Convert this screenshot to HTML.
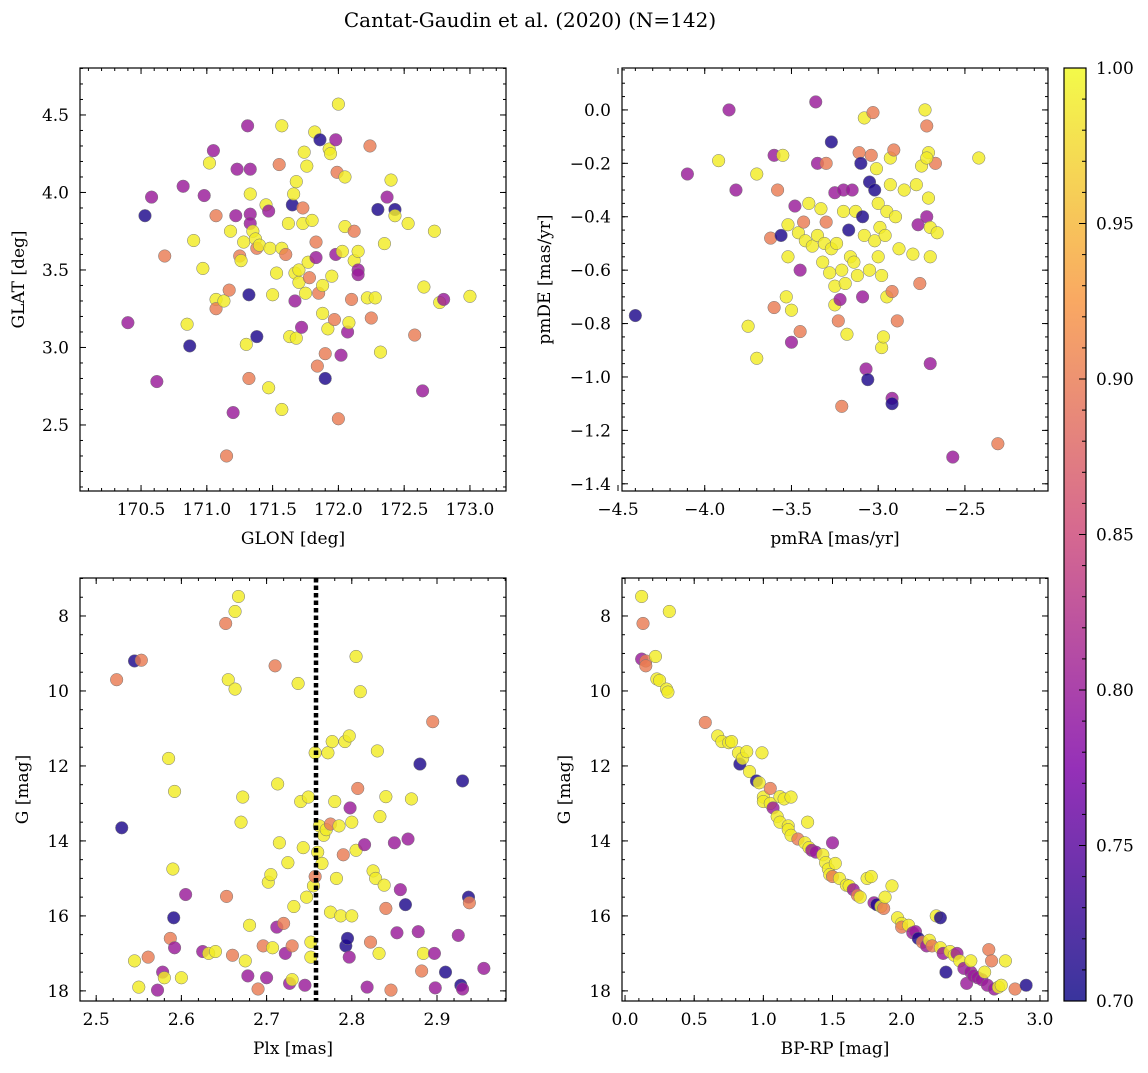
<!DOCTYPE html>
<html><head><meta charset="utf-8"><style>
body{margin:0;background:#fff;}
svg text{font-family:"DejaVu Serif","Liberation Serif",serif;fill:#000;}
</style></head><body>
<svg id="fig" width="1148" height="1068" viewBox="0 0 1148 1068" xmlns="http://www.w3.org/2000/svg">
<defs><linearGradient id="cbg" x1="0" y1="1" x2="0" y2="0">
<stop offset="0" stop-color="#0d0887"/><stop offset="0.25" stop-color="#7e03a8"/><stop offset="0.5" stop-color="#cc4778"/><stop offset="0.75" stop-color="#f89540"/><stop offset="1" stop-color="#f0f921"/></linearGradient></defs>
<text x="530" y="27" font-size="20" text-anchor="middle">Cantat-Gaudin et al. (2020) (N=142)</text>
</svg>
<script>
const N=0.71,P=0.80,S=0.90,Y=0.99;
// Panel 1: GLON / GLAT
const glon=[170.4,170.53,170.58,170.62,170.68,170.82,170.85,170.87,170.9,170.97,170.98,171.02,171.05,171.07,171.07,171.07,171.13,171.15,171.17,171.18,171.2,171.22,171.23,171.25,171.26,171.28,171.30,171.31,171.32,171.32,171.33,171.33,171.33,171.33,171.35,171.37,171.38,171.38,171.4,171.45,171.47,171.47,171.48,171.50,171.53,171.55,171.57,171.57,171.57,171.6,171.62,171.63,171.65,171.66,171.67,171.67,171.68,171.68,171.7,171.7,171.72,171.73,171.73,171.74,171.75,171.76,171.77,171.78,171.80,171.82,171.83,171.83,171.84,171.85,171.86,171.88,171.88,171.9,171.9,171.92,171.93,171.94,171.95,171.97,171.98,171.98,171.99,172.0,172.0,172.02,172.03,172.05,172.05,172.07,172.08,172.1,172.12,172.12,172.15,172.15,172.15,172.22,172.24,172.25,172.28,172.3,172.32,172.35,172.37,172.4,172.43,172.43,172.53,172.58,172.64,172.65,172.73,172.77,172.8,173.0];
const glat=[3.16,3.85,3.97,2.78,3.59,4.04,3.15,3.01,3.69,3.51,3.98,4.19,4.27,3.85,3.31,3.25,3.30,2.30,3.37,3.75,2.58,3.85,4.15,3.59,3.56,3.68,3.02,4.43,3.34,2.80,4.15,3.99,3.86,3.80,3.75,3.70,3.07,3.64,3.66,3.92,3.88,2.74,3.64,3.34,3.48,4.18,4.43,3.64,2.60,3.60,3.80,3.07,3.92,3.99,3.48,3.30,3.06,4.07,3.50,3.42,3.13,3.80,3.90,4.26,3.35,4.17,3.55,3.45,3.82,4.39,3.68,3.58,2.88,3.35,4.34,3.40,3.22,2.96,2.80,3.12,4.28,4.25,3.46,3.18,3.60,4.34,4.13,4.57,2.54,2.95,3.62,4.10,3.78,3.10,3.16,3.31,3.75,3.56,3.50,3.47,3.62,3.32,4.30,3.19,3.32,3.89,2.97,3.67,3.97,4.08,3.89,3.85,3.80,3.08,2.72,3.39,3.75,3.29,3.31,3.33];
const prob1=[P,N,P,P,S,P,Y,N,Y,Y,P,Y,P,S,Y,S,Y,S,S,Y,P,P,P,S,Y,Y,Y,P,N,S,P,Y,P,P,Y,Y,N,S,Y,Y,P,Y,Y,Y,Y,S,Y,Y,Y,S,Y,Y,N,Y,Y,P,Y,Y,Y,Y,P,Y,S,Y,Y,Y,Y,S,Y,Y,S,P,S,S,N,Y,Y,S,N,Y,Y,Y,Y,S,P,P,S,Y,S,P,Y,Y,Y,P,Y,S,S,Y,P,P,Y,Y,S,S,Y,N,Y,Y,P,Y,N,Y,Y,S,P,Y,Y,Y,P,Y];
// Panel 2: pmRA / pmDE
const pmra=[-4.40,-4.1,-3.92,-3.86,-3.82,-3.75,-3.7,-3.7,-3.62,-3.6,-3.6,-3.58,-3.56,-3.55,-3.53,-3.52,-3.52,-3.5,-3.5,-3.48,-3.46,-3.45,-3.45,-3.43,-3.42,-3.40,-3.38,-3.36,-3.35,-3.35,-3.33,-3.32,-3.31,-3.30,-3.30,-3.28,-3.27,-3.27,-3.25,-3.25,-3.25,-3.24,-3.23,-3.22,-3.21,-3.21,-3.20,-3.20,-3.19,-3.18,-3.17,-3.16,-3.15,-3.14,-3.13,-3.12,-3.11,-3.1,-3.09,-3.09,-3.08,-3.08,-3.07,-3.06,-3.05,-3.05,-3.04,-3.03,-3.02,-3.02,-3.01,-3.00,-3.00,-2.99,-2.98,-2.98,-2.97,-2.96,-2.95,-2.95,-2.93,-2.93,-2.92,-2.92,-2.92,-2.91,-2.9,-2.89,-2.88,-2.85,-2.80,-2.78,-2.77,-2.76,-2.75,-2.73,-2.72,-2.72,-2.71,-2.71,-2.70,-2.70,-2.70,-2.67,-2.66,-2.57,-2.42,-2.31,-2.72];
const pmde=[-0.77,-0.24,-0.19,0.0,-0.30,-0.81,-0.93,-0.24,-0.48,-0.74,-0.17,-0.30,-0.47,-0.17,-0.70,-0.43,-0.55,-0.87,-0.75,-0.36,-0.46,-0.83,-0.60,-0.42,-0.49,-0.35,-0.51,0.03,-0.20,-0.47,-0.37,-0.57,-0.50,-0.20,-0.42,-0.61,-0.12,-0.52,-0.73,-0.66,-0.31,-0.50,-0.79,-0.71,-1.11,-0.60,-0.38,-0.30,-0.65,-0.84,-0.45,-0.55,-0.30,-0.57,-0.38,-0.62,-0.16,-0.20,-0.40,-0.70,-0.03,-0.47,-0.97,-1.01,-0.60,-0.27,-0.17,-0.01,-0.49,-0.30,-0.22,-0.55,-0.35,-0.44,-0.62,-0.89,-0.85,-0.47,-0.38,-0.70,-0.28,-0.18,-0.68,-1.08,-1.10,-0.15,-0.40,-0.79,-0.52,-0.30,-0.54,-0.28,-0.43,-0.65,-0.21,0.00,-0.40,-0.06,-0.16,-0.33,-0.95,-0.44,-0.55,-0.20,-0.46,-1.30,-0.18,-1.25,-0.18];
const prob2=[N,P,Y,P,P,Y,Y,Y,S,S,P,S,N,Y,Y,Y,Y,P,Y,P,Y,S,P,S,Y,Y,Y,P,P,Y,Y,Y,Y,S,S,Y,N,Y,Y,Y,P,Y,S,P,S,Y,Y,P,Y,Y,N,Y,P,Y,Y,Y,S,N,N,P,Y,Y,P,N,Y,N,S,S,Y,N,Y,Y,Y,Y,Y,Y,Y,Y,Y,Y,Y,Y,S,P,N,S,Y,S,Y,Y,Y,Y,P,S,Y,Y,P,S,Y,Y,P,Y,Y,S,Y,P,Y,S,Y];
// Panel 3: Plx / G
const plx=[2.524,2.530,2.545,2.553,2.545,2.550,2.561,2.572,2.578,2.580,2.585,2.587,2.59,2.592,2.591,2.592,2.60,2.605,2.625,2.632,2.64,2.652,2.653,2.655,2.66,2.663,2.663,2.667,2.67,2.672,2.675,2.678,2.68,2.69,2.696,2.70,2.702,2.705,2.707,2.71,2.712,2.713,2.715,2.72,2.722,2.725,2.727,2.73,2.73,2.732,2.737,2.74,2.743,2.745,2.747,2.749,2.752,2.752,2.755,2.757,2.757,2.76,2.762,2.765,2.767,2.77,2.772,2.775,2.775,2.777,2.78,2.782,2.785,2.787,2.79,2.792,2.793,2.795,2.797,2.797,2.798,2.80,2.80,2.805,2.805,2.807,2.81,2.815,2.818,2.822,2.825,2.828,2.83,2.832,2.833,2.838,2.84,2.84,2.846,2.85,2.853,2.857,2.866,2.863,2.87,2.878,2.88,2.882,2.884,2.895,2.897,2.898,2.91,2.925,2.928,2.93,2.93,2.937,2.938,2.955];
const gmag3=[9.7,13.65,9.2,9.18,17.2,17.9,17.1,17.98,17.5,17.65,11.8,16.6,14.75,12.68,16.05,16.85,17.65,15.43,16.95,17.0,16.95,8.2,15.48,9.7,17.05,9.95,7.88,7.48,13.5,12.83,17.2,17.6,16.25,17.95,16.8,17.65,15.1,14.9,16.85,9.33,16.3,12.48,14.05,16.2,17.0,14.58,17.8,16.8,17.7,15.75,9.8,12.95,14.18,17.85,15.5,12.83,16.7,17.1,15.2,14.95,11.65,14.3,13.6,14.6,13.85,13.7,11.65,15.9,13.55,11.35,12.95,15.0,13.6,16.0,14.37,11.35,16.8,16.6,11.2,17.1,13.12,13.5,16.0,9.08,14.25,12.6,10.02,14.1,17.9,16.7,14.8,15.0,11.6,17.0,13.35,15.18,12.82,15.8,17.98,14.05,16.45,15.3,13.95,15.7,12.88,16.42,11.95,17.47,17.0,10.82,17.0,17.92,17.5,16.52,17.85,17.95,12.4,15.5,15.65,17.4];
const prob3=[S,N,N,S,Y,Y,S,P,P,Y,Y,S,Y,Y,N,P,Y,P,P,Y,Y,S,S,Y,S,Y,Y,Y,Y,Y,Y,P,Y,S,S,P,Y,Y,Y,S,P,Y,Y,S,P,Y,P,S,Y,Y,Y,Y,Y,P,Y,Y,Y,Y,Y,S,Y,Y,Y,Y,Y,Y,Y,Y,S,Y,Y,Y,Y,Y,S,Y,N,N,Y,P,P,Y,Y,Y,Y,S,Y,P,P,S,Y,Y,Y,Y,Y,Y,Y,S,S,P,P,P,P,N,Y,P,N,S,Y,S,P,P,N,P,N,P,N,N,S,P];
const plxLine=2.758;
// Panel 4: BP-RP / G
const bprp=[0.12,0.13,0.12,0.15,0.15,0.22,0.23,0.25,0.3,0.31,0.32,0.58,0.67,0.7,0.75,0.77,0.82,0.83,0.85,0.88,0.9,0.95,0.97,0.99,1.0,1.0,1.05,1.05,1.07,1.1,1.12,1.12,1.15,1.18,1.18,1.2,1.2,1.25,1.3,1.32,1.33,1.35,1.38,1.43,1.45,1.47,1.48,1.5,1.5,1.52,1.55,1.6,1.62,1.65,1.68,1.7,1.75,1.78,1.8,1.82,1.85,1.87,1.88,1.93,1.97,2.0,2.0,2.05,2.08,2.1,2.12,2.15,2.18,2.2,2.22,2.25,2.28,2.28,2.3,2.32,2.35,2.38,2.4,2.42,2.45,2.47,2.5,2.5,2.52,2.55,2.58,2.6,2.62,2.63,2.65,2.67,2.7,2.72,2.75,2.82,2.9];
const gmag4=[7.48,8.2,9.15,9.2,9.33,9.08,9.68,9.72,9.95,10.03,7.88,10.84,11.2,11.35,11.38,11.35,11.65,11.95,11.8,11.62,12.15,12.4,12.45,11.65,12.83,12.95,12.6,13.0,13.12,13.35,13.5,12.82,12.88,13.6,13.7,12.83,13.85,13.95,14.05,13.5,14.18,14.25,14.3,14.37,14.58,14.75,14.9,14.05,14.95,14.6,15.0,15.18,15.2,15.3,15.45,15.5,15.0,14.95,15.65,15.7,15.75,15.8,15.5,15.2,16.05,16.2,16.3,16.25,16.45,16.42,16.6,16.7,16.8,16.65,16.8,16.0,16.05,16.85,17.0,17.5,16.95,17.05,17.0,17.2,17.4,17.8,17.5,17.2,17.6,17.65,17.7,17.5,17.85,16.9,17.2,17.95,17.9,17.85,17.2,17.95,17.85];
const prob4=[Y,S,P,S,S,Y,Y,Y,Y,Y,Y,S,Y,Y,Y,Y,Y,N,Y,Y,Y,N,Y,Y,Y,Y,S,Y,P,Y,Y,Y,Y,Y,Y,Y,Y,S,Y,Y,Y,P,P,Y,Y,Y,Y,P,S,Y,Y,Y,Y,P,S,Y,Y,Y,P,N,Y,S,Y,Y,Y,Y,S,Y,P,P,N,S,P,Y,S,Y,N,Y,P,N,Y,Y,P,Y,P,P,P,Y,P,P,P,Y,P,S,S,P,Y,Y,Y,S,N];
const cbTicks=[0.70,0.75,0.80,0.85,0.90,0.95,1.00];

const svg=document.getElementById('fig');
const NS='http://www.w3.org/2000/svg';
const FS=17;
function mk(tag,at,parent){const e=document.createElementNS(NS,tag);for(const k in at)e.setAttribute(k,at[k]);(parent||svg).appendChild(e);return e;}
const stops=[[13,8,135],[126,3,168],[204,71,120],[248,149,64],[240,249,33]];
function cmap(v){let t=(v-0.7)/0.3;t=Math.max(0,Math.min(1,t));const s=t*4,i=Math.min(3,Math.floor(s)),f=s-i;const a=stops[i],b=stops[i+1];return 'rgb('+[0,1,2].map(k=>Math.round(a[k]+(b[k]-a[k])*f)).join(',')+')';}
function fmt(v,d){const s=Math.abs(v).toFixed(d);return (v<-1e-9?'\u2212':'')+s;}

function panel(o){
  const g=mk('g',{});
  
  
  const sx=v=>o.x0+(v-o.xd[0])/(o.xd[1]-o.xd[0])*(o.x1-o.x0);
  const sy=v=>o.y1-(v-o.yd[0])/(o.yd[1]-o.yd[0])*(o.y1-o.y0);
  const clip='c'+o.name;
  const cp=mk('clipPath',{id:clip},g);mk('rect',{x:o.x0,y:o.y0,width:o.x1-o.x0,height:o.y1-o.y0},cp);
  const pts=mk('g',{'clip-path':'url(#'+clip+')'},g);
  
  
  for(let i=0;i<o.xs.length;i++){
    const c=mk('circle',{cx:sx(o.xs[i]),cy:sy(o.ys[i]),r:6.3,fill:cmap(o.cs[i]),'fill-opacity':0.82,stroke:'#777','stroke-width':0.5},pts);
    
    
  }
  if(o.vline!==undefined){
    const l=mk('line',{x1:sx(o.vline),x2:sx(o.vline),y1:o.y0,y2:o.y1,stroke:'#000','stroke-width':4.5,'stroke-dasharray':'4.5,3'},g);
    
    
  }
  const fr=mk('rect',{x:o.x0,y:o.y0,width:o.x1-o.x0,height:o.y1-o.y0,fill:'none',stroke:'#000','stroke-width':1.2},g);
  
  
  const eps=1e-9;
  for(let v=o.xmin[0];v<=o.xd[1]+eps;v+=o.xmin[1]){if(v<o.xd[0])continue;const x=sx(v);
    mk('line',{x1:x,x2:x,y1:o.y1,y2:o.y1-3,stroke:'#000'},g);mk('line',{x1:x,x2:x,y1:o.y0,y2:o.y0+3,stroke:'#000'},g);}
  for(let v=o.ymin[0];v<=o.yd[1]+eps;v+=o.ymin[1]){if(v<o.yd[0])continue;const y=sy(v);
    mk('line',{x1:o.x0,x2:o.x0+3,y1:y,y2:y,stroke:'#000'},g);mk('line',{x1:o.x1,x2:o.x1-3,y1:y,y2:y,stroke:'#000'},g);}
  o.xt.forEach(v=>{const x=sx(v);
    mk('line',{x1:x,x2:x,y1:o.y1,y2:o.y1-6,stroke:'#000'},g);mk('line',{x1:x,x2:x,y1:o.y0,y2:o.y0+6,stroke:'#000'},g);
    const t=mk('text',{x:x,y:o.y1+24,'font-size':FS,'text-anchor':'middle'},g);t.textContent=fmt(v,o.xdp);
    
    });
  o.yt.forEach(v=>{const y=sy(v);
    mk('line',{x1:o.x0,x2:o.x0+6,y1:y,y2:y,stroke:'#000'},g);mk('line',{x1:o.x1,x2:o.x1-6,y1:y,y2:y,stroke:'#000'},g);
    const t=mk('text',{x:o.x0-11,y:y+6,'font-size':FS,'text-anchor':'end'},g);t.textContent=fmt(v,o.ydp);
    
    });
  const xl=mk('text',{x:(o.x0+o.x1)/2,y:o.y1+53,'font-size':FS,'text-anchor':'middle'},g);xl.textContent=o.xlab;
  
  
  const yx=o.ylx,yy=(o.y0+o.y1)/2;
  const yl=mk('text',{x:yx,y:yy,'font-size':FS,'text-anchor':'middle',transform:'rotate(-90 '+yx+' '+yy+')'},g);yl.textContent=o.ylab;
  
  
}
const r=(a,b,s)=>{const o=[];for(let v=a;v<=b+1e-9;v+=s)o.push(+v.toFixed(4));return o;};
panel({name:'glon-glat-panel',x0:80,x1:506,y0:68,y1:491,xd:[170.036,173.274],yd:[2.074,4.803],xs:glon,ys:glat,cs:prob1,
  xt:r(170.5,173.0,0.5),yt:r(2.5,4.5,0.5),xmin:[170.0,0.1],ymin:[2.1,0.1],xdp:1,ydp:1,xlab:'GLON [deg]',ylab:'GLAT [deg]',ylx:24});
panel({name:'proper-motion-panel',x0:622,x1:1048,y0:68,y1:491,xd:[-4.477,-2.021],yd:[-1.427,0.157],xs:pmra,ys:pmde,cs:prob2,
  xt:r(-4.5,-2.5,0.5),yt:r(-1.4,0.0,0.2),xmin:[-4.5,0.1],ymin:[-1.4,0.05],xdp:1,ydp:1,xlab:'pmRA [mas/yr]',ylab:'pmDE [mas/yr]',ylx:550});
panel({name:'parallax-magnitude-panel',x0:80,x1:506,y0:578,y1:1001,xd:[2.481,2.981],yd:[-18.27,-6.987],xs:plx,ys:gmag3.map(v=>-v),cs:prob3,vline:plxLine,
  xt:r(2.5,2.9,0.1),yt:[],xmin:[2.48,0.02],ymin:[-18,0.5],xdp:1,ydp:0,xlab:'Plx [mas]',ylab:'G [mag]',ylx:28});
panel({name:'color-magnitude-panel',x0:622,x1:1048,y0:578,y1:1001,xd:[-0.022,3.058],yd:[-18.27,-6.987],xs:bprp,ys:gmag4.map(v=>-v),cs:prob4,
  xt:r(0,3,0.5),yt:[],xmin:[0,0.1],ymin:[-18,0.5],xdp:1,ydp:0,xlab:'BP-RP [mag]',ylab:'G [mag]',ylx:570});
const gTicks=[8,10,12,14,16,18];
[[80,506],[622,1048]].forEach(p=>{gTicks.forEach(v=>{const y=1001-(-v+18.27)/(18.27-6.987)*423;
  mk('line',{x1:p[0],x2:p[0]+6,y1:y,y2:y,stroke:'#000'});mk('line',{x1:p[1],x2:p[1]-6,y1:y,y2:y,stroke:'#000'});
  const t=mk('text',{x:p[0]-11,y:y+6,'font-size':FS,'text-anchor':'end'});t.textContent=v;
  
  });});
const cb=mk('g',{});


mk('rect',{x:1064,y:68,width:22,height:933,fill:'url(#cbg)','fill-opacity':0.82},cb);
mk('rect',{x:1064,y:68,width:22,height:933,fill:'none',stroke:'#000','stroke-width':1.2},cb);
const cy=v=>1001-(v-0.7)/0.3*933;
for(let v=0.70;v<=1.0001;v+=0.01){mk('line',{x1:1086,x2:1082,y1:cy(v),y2:cy(v),stroke:'#000'},cb);}
cbTicks.forEach(v=>{mk('line',{x1:1086,x2:1079,y1:cy(v),y2:cy(v),stroke:'#000'},cb);
  const t=mk('text',{x:1096,y:cy(v)+6,'font-size':FS},cb);t.textContent=v.toFixed(2);
  
  });
</script>
</body></html>
